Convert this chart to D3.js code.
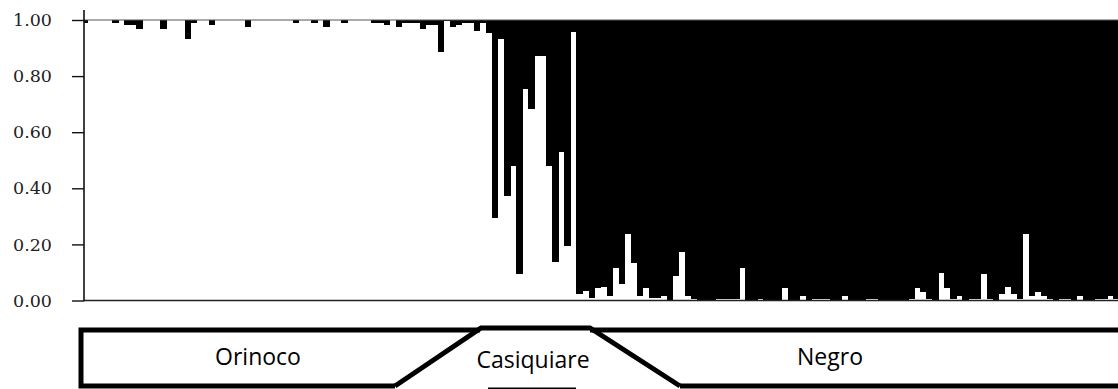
<!DOCTYPE html>
<html>
<head>
<meta charset="utf-8">
<script src="https://cdn.jsdelivr.net/npm/d3@7"></script>
<style>
  html, body { margin: 0; padding: 0; background: #fff; }
  svg { display: block; }
</style>
</head>
<body>
<svg id="chart" width="1118" height="389"></svg>
<script>
// membership in the white (Orinoco) cluster, one value per individual, left to right
const membership = [
  0.99, 1, 1, 1, 1, 0.988, 1, 0.982, 0.982, 0.967,
  1, 1, 1, 0.967, 1, 1, 1, 0.931, 0.988, 1,
  1, 0.982, 1, 1, 1, 1, 1, 0.974, 1, 1,
  1, 1, 1, 1, 1, 0.99, 1, 1, 0.99, 1,
  0.976, 1, 1, 0.988, 1, 1, 1, 1, 0.99, 0.99,
  0.982, 1, 0.976, 0.99, 0.99, 0.99, 0.967, 0.982, 0.982, 0.887,
  0.997, 0.976, 0.982, 0.988, 0.988, 0.962, 0.99, 0.955, 0.293, 0.931,
  0.373, 0.48, 0.094, 0.753, 0.682, 0.873, 0.873, 0.481, 0.136, 0.528,
  0.194, 0.958, 0.022, 0.035, 0.009, 0.043, 0.049, 0.015, 0.115, 0.058,
  0.236, 0.135, 0.015, 0.043, 0.009, 0.009, 0.015, 0, 0.086, 0.172,
  0.015, 0.007, 0, 0, 0, 0.007, 0.007, 0.007, 0.007, 0.115,
  0, 0, 0.007, 0, 0, 0, 0.043, 0, 0, 0.015,
  0, 0.007, 0.007, 0.007, 0, 0, 0.015, 0, 0, 0,
  0.007, 0.007, 0, 0, 0, 0, 0, 0.007, 0.043, 0.029,
  0.007, 0, 0.099, 0.043, 0.007, 0.015, 0, 0.007, 0.007, 0.093,
  0.007, 0, 0.022, 0.049, 0.022, 0.007, 0.236, 0.015, 0.029, 0.015,
  0.007, 0, 0.007, 0.007, 0, 0.015, 0, 0, 0.007, 0.007,
  0.015, 0.007
];
const yTicks = [0, 0.2, 0.4, 0.6, 0.8, 1];
const regions = ['Orinoco', 'Casiquiare', 'Negro'];

const svg = d3.select('#chart');
const axisX = 84;
const barStart = 82;
const barWidth = 6.03;

const x = d3
  .scaleBand()
  .domain(d3.range(membership.length))
  .range([barStart, barStart + membership.length * barWidth])
  .padding(0);

const y = d3.scaleLinear().domain([0, 1]).range([300.5, 20]);

svg
  .append('defs')
  .append('clipPath')
  .attr('id', 'plot-clip')
  .append('rect')
  .attr('x', axisX)
  .attr('y', 0)
  .attr('width', 1118 - axisX)
  .attr('height', 310);

// black = the other cluster, hanging from the top down to the white share
svg
  .append('g')
  .attr('clip-path', 'url(#plot-clip)')
  .selectAll('rect')
  .data(membership)
  .enter()
  .append('rect')
  .attr('x', (d, i) => x(i))
  .attr('width', x.bandwidth() + 0.4)
  .attr('y', y(1))
  .attr('height', (d) => y(d) - y(1))
  .attr('fill', '#000')
  .attr('shape-rendering', 'crispEdges');

svg
  .append('line')
  .attr('x1', axisX)
  .attr('x2', 1118)
  .attr('y1', y(1))
  .attr('y2', y(1))
  .attr('stroke', '#555')
  .attr('stroke-width', 1);

svg
  .append('line')
  .attr('x1', axisX)
  .attr('x2', 1118)
  .attr('y1', y(0))
  .attr('y2', y(0))
  .attr('stroke', '#222')
  .attr('stroke-width', 1.6);

const yAxis = svg
  .append('g')
  .attr('transform', `translate(${axisX},0)`)
  .call(
    d3
      .axisLeft(y)
      .tickValues(yTicks)
      .tickSize(12)
      .tickSizeOuter(0)
      .tickPadding(20)
      .tickFormat(d3.format('.2f')),
  );

yAxis.select('.domain').remove();
yAxis.selectAll('line').attr('stroke', '#111').attr('stroke-width', 1.4);
yAxis
  .selectAll('text')
  .attr('fill', '#222')
  .attr('font-family', 'DejaVu Serif, serif')
  .attr('font-size', 17.5);

svg
  .append('line')
  .attr('x1', axisX)
  .attr('x2', axisX)
  .attr('y1', 10)
  .attr('y2', y(0) + 0.8)
  .attr('stroke', '#111')
  .attr('stroke-width', 1.6);

// region boxes under the plot
const boxes = svg
  .append('g')
  .attr('fill', 'none')
  .attr('stroke', '#000')
  .attr('stroke-width', 5)
  .attr('stroke-linejoin', 'miter');

boxes.append('path').attr('d', 'M480,330 L81,330 L81,386 L395,386');
boxes.append('path').attr('d', 'M395,386 L481,328 L590,328 L680,386');
boxes.append('path').attr('d', 'M590,330 L1124,330 L1124,386 L680,386');
boxes.append('path').attr('d', 'M488,390 L576,390');

const labelX = [258, 533, 830];
const labelY = [365, 368, 365];

svg
  .append('g')
  .selectAll('text')
  .data(regions)
  .enter()
  .append('text')
  .attr('x', (d, i) => labelX[i])
  .attr('y', (d, i) => labelY[i])
  .attr('text-anchor', 'middle')
  .attr('font-family', 'Open Sans, sans-serif')
  .attr('font-size', 23)
  .attr('fill', '#000')
  .text((d) => d);
</script>
</body>
</html>
